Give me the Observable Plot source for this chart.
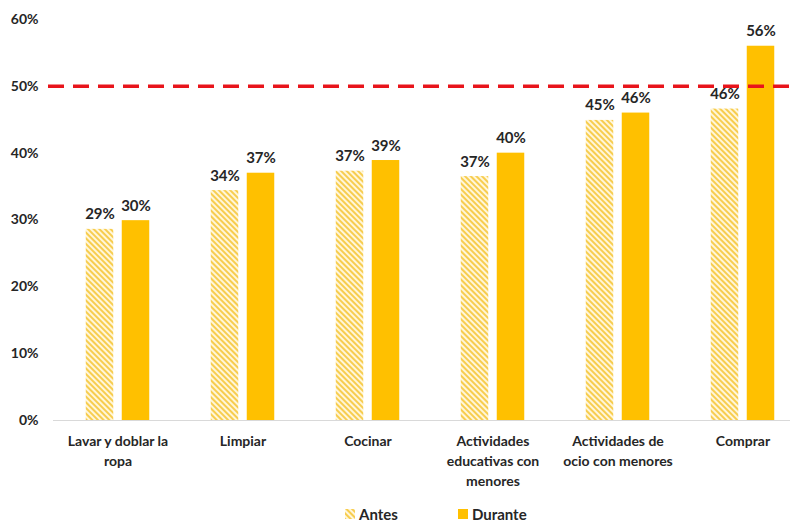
<!DOCTYPE html>
<html><head><meta charset="utf-8">
<script src="https://cdn.jsdelivr.net/npm/d3@7"></script>
<script src="https://cdn.jsdelivr.net/npm/@observablehq/plot@0.6"></script>
<style>
body{margin:0;background:#fff;font-family:Lato,"Open Sans",sans-serif;}
#chart svg{display:block;}
#legend{display:flex;align-items:center;height:22px;padding-top:3px;padding-left:345px;font-weight:bold;font-size:15px;color:#262626;}
#legend .item{display:flex;align-items:center;gap:4px;margin-right:60px;}
</style></head><body>
<div id="chart"></div>
<div id="legend"></div>
<script>
const categories = ["Lavar y doblar la ropa", "Limpiar", "Cocinar", "Actividades educativas con menores", "Actividades de ocio con menores", "Comprar"];
const tickLabels = ["Lavar y doblar la\nropa", "Limpiar", "Cocinar", "Actividades\neducativas con\nmenores", "Actividades de\nocio con menores", "Comprar"];
const series = ["Antes", "Durante"];
const antes = [28.6, 34.4, 37.3, 36.5, 44.9, 46.6];
const durante = [29.9, 37.0, 38.9, 40.0, 46.0, 56.0];
const antesLabels = ["29%", "34%", "37%", "37%", "45%", "46%"];
const duranteLabels = ["30%", "37%", "39%", "40%", "46%", "56%"];
const yTicks = [0, 10, 20, 30, 40, 50, 60];
const threshold = [50];

const colorDurante = "#FFC000";
const colorHatch = "#F7CD4F";

const antesData = categories.map((c, i) => ({cat: c, v: antes[i], label: antesLabels[i]}));
const duranteData = categories.map((c, i) => ({cat: c, v: durante[i], label: duranteLabels[i]}));
const labelMap = new Map(categories.map((c, i) => [c, tickLabels[i]]));

const inset = 48.75;
const off = 18;
const textColor = "#262626";

const plot = Plot.plot({
  width: 793,
  height: 500,
  marginLeft: 53,
  marginRight: 3,
  marginTop: 19,
  marginBottom: 80,
  style: {fontFamily: "Lato, 'Open Sans', sans-serif", fontWeight: "bold", color: textColor, background: "#fff"},
  x: {domain: categories, range: [53, 806], padding: 0},
  y: {domain: [0, 60]},
  marks: [
    Plot.axisY({ticks: yTicks, tickFormat: d => d + "%", tickSize: 0, tickPadding: 15, fontSize: 14, fontWeight: "bold", label: null, fill: textColor}),
    Plot.axisX({tickFormat: d => labelMap.get(d), tickSize: 0, tickPadding: 12, fontSize: 14, fontWeight: "bold", lineHeight: 1.4, label: null, fill: textColor}),
    Plot.barY(antesData, {x: "cat", y: "v", dx: -off, insetLeft: inset, insetRight: inset, fill: "url(#hatchAntes)"}),
    Plot.barY(duranteData, {x: "cat", y: "v", dx: off, insetLeft: inset, insetRight: inset, fill: colorDurante}),
    Plot.ruleY([0], {stroke: "#D9D9D9", strokeWidth: 1.2}),
    Plot.ruleY(threshold, {stroke: "#E8141B", strokeWidth: 3.5, strokeDasharray: "16,9", insetLeft: -5}),
    Plot.text(antesData, {x: "cat", y: "v", text: "label", dx: -off, dy: -10, lineAnchor: "bottom", fontSize: 15, fontWeight: "bold", fill: textColor}),
    Plot.text(duranteData, {x: "cat", y: "v", text: "label", dx: off, dy: -10, lineAnchor: "bottom", fontSize: 15, fontWeight: "bold", fill: textColor})
  ]
});

function addPattern(svgSel, id) {
  const defs = svgSel.insert("defs", ":first-child");
  const p = defs.append("pattern").attr("id", id).attr("patternUnits", "userSpaceOnUse")
    .attr("width", 4).attr("height", 4).attr("patternTransform", "rotate(-45)");
  p.append("rect").attr("width", 4).attr("height", 4).attr("fill", "#FFF6DA");
  p.append("rect").attr("width", 2).attr("height", 4).attr("fill", colorHatch);
}
addPattern(d3.select(plot), "hatchAntes");
document.getElementById("chart").appendChild(plot);

const legend = d3.select("#legend");
const it1 = legend.append("div").attr("class", "item");
const s1 = it1.append("svg").attr("width", 10).attr("height", 10);
addPattern(s1, "hatchLegend");
s1.append("rect").attr("width", 10).attr("height", 10).attr("fill", "url(#hatchLegend)");
it1.append("span").text(series[0]);
const it2 = legend.append("div").attr("class", "item");
it2.append("svg").attr("width", 10).attr("height", 10).append("rect").attr("width", 10).attr("height", 10).attr("fill", colorDurante);
it2.append("span").text(series[1]);
</script>
</body></html>
